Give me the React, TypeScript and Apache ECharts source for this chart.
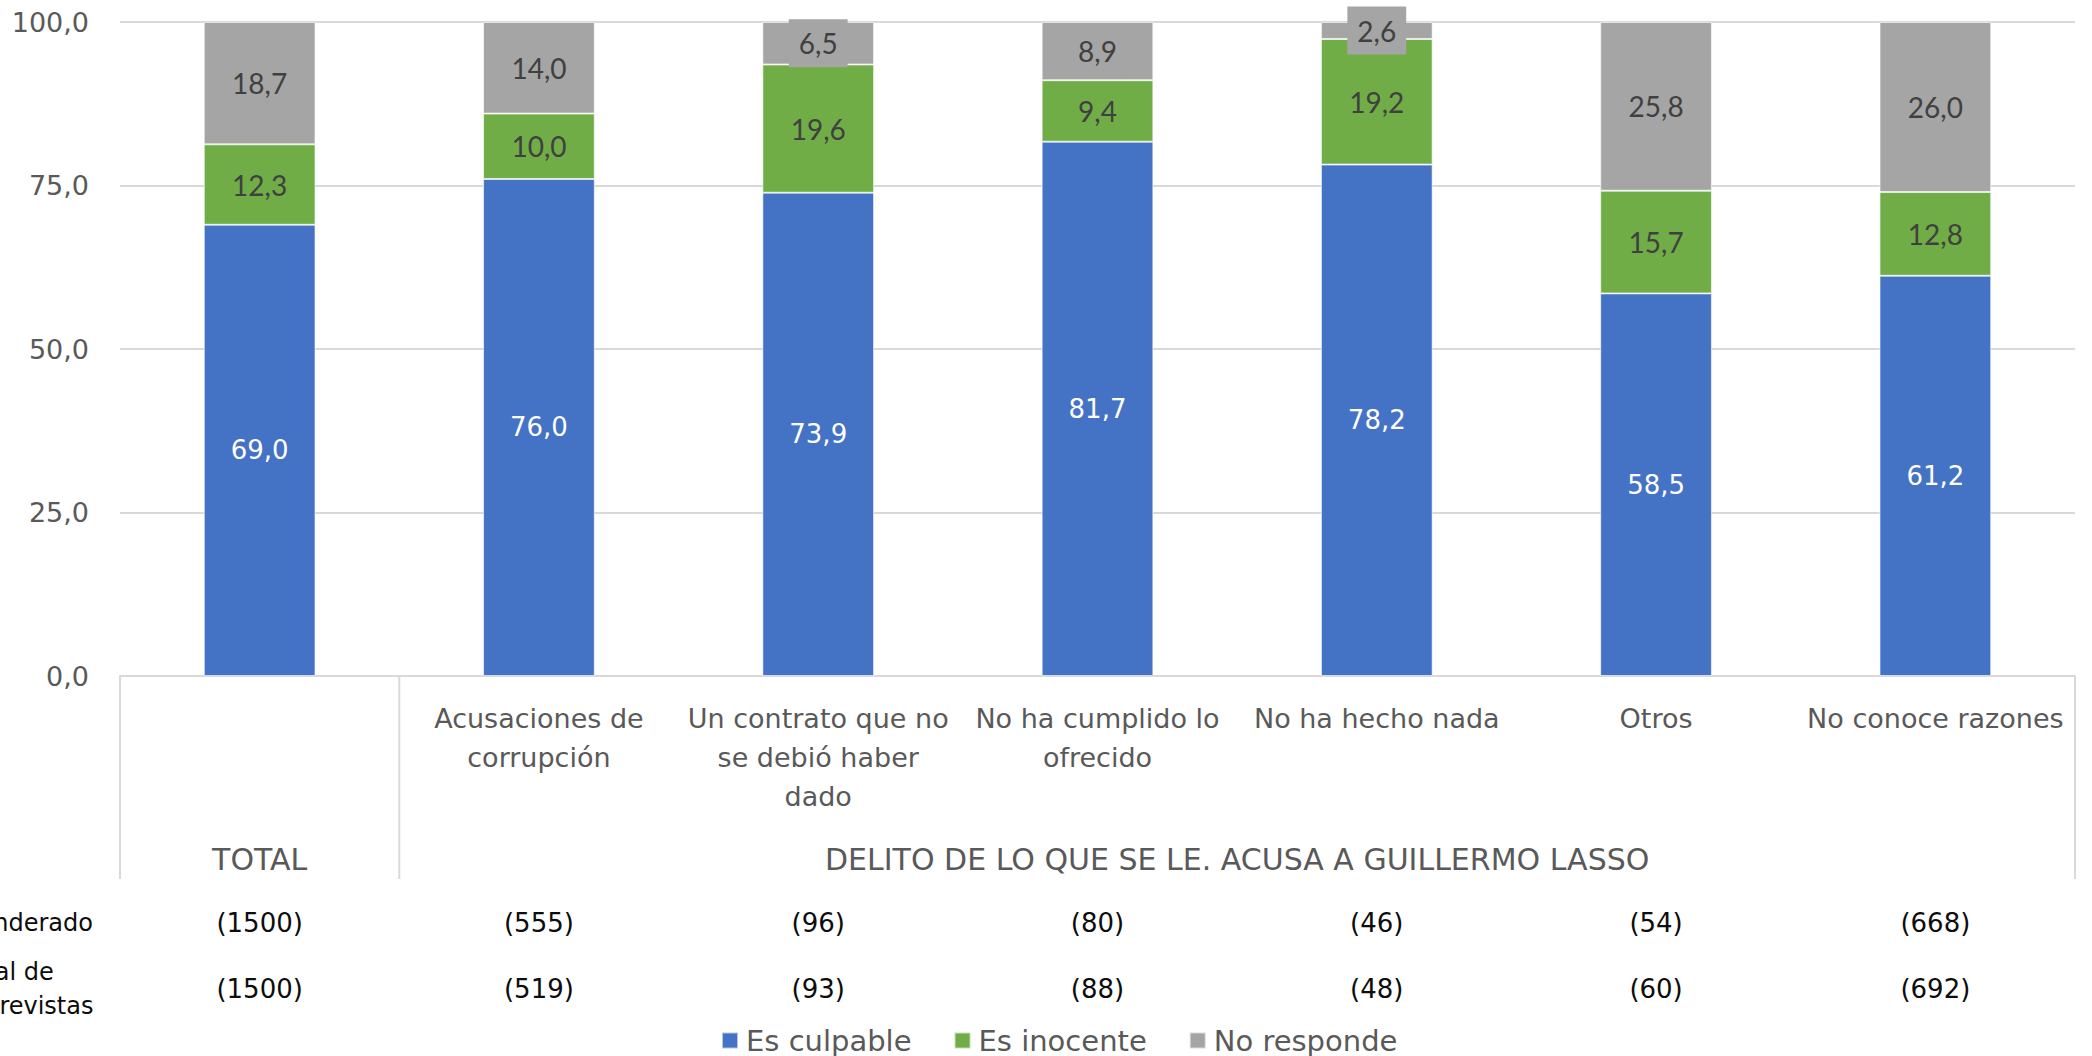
import React, { useEffect, useRef } from "react";
import * as echarts from "echarts";

const categoryLabels = [
  "",
  "Acusaciones de\ncorrupción",
  "Un contrato que no\nse debió haber\ndado",
  "No ha cumplido lo\nofrecido",
  "No ha hecho nada",
  "Otros",
  "No conoce razones",
];
const groupLabels = ["TOTAL", "DELITO DE LO QUE SE LE. ACUSA A GUILLERMO LASSO"];
const groupSpans = [1, 6];

const culpable = [69.0, 76.0, 73.9, 81.7, 78.2, 58.5, 61.2];
const inocente = [12.3, 10.0, 19.6, 9.4, 19.2, 15.7, 12.8];
const noResponde = [18.7, 14.0, 6.5, 8.9, 2.6, 25.8, 26.0];

const rowLabels = ["Total ponderado", "Total de\nentrevistas"];
const ponderado = ["(1500)", "(555)", "(96)", "(80)", "(46)", "(54)", "(668)"];
const entrevistas = ["(1500)", "(519)", "(93)", "(88)", "(48)", "(60)", "(692)"];

const yTicks = { min: 0, max: 100, interval: 25 };

const WIDE_FONT = "'DejaVu Sans', 'Open Sans', sans-serif";
const LABEL_FONT = "Lato, 'Noto Sans', sans-serif";
const fmt = (v: number) => v.toFixed(1).replace(".", ",");

export default function App() {
  const ref = useRef<HTMLDivElement>(null);
  useEffect(() => {
    if (!ref.current) return;
    const chart = echarts.init(ref.current, null, { renderer: "svg" });
    const mkSeries = (
      name: string,
      data: number[],
      color: string,
      labelColor: string,
      font: string,
      size: number,
      bg?: string
    ) => ({
      name,
      type: "bar",
      stack: "total",
      data,
      barWidth: "40%",
      itemStyle: { color, borderColor: "rgba(255,255,255,0.6)", borderWidth: 1 },
      label: {
        show: true,
        position: "inside",
        formatter: (p: any) => fmt(p.value),
        color: labelColor,
        fontFamily: font,
        fontSize: size,
        backgroundColor: bg,
        padding: bg ? [10, 10] : 0,
      },
    });
    chart.setOption({
      animation: false,
      backgroundColor: "#ffffff",
      grid: { left: 120, right: 17, top: 22, bottom: 380, containLabel: false },
      legend: {
        data: ["Es culpable", "Es inocente", "No responde"],
        left: 716,
        top: 1021,
        icon: "rect",
        itemWidth: 16,
        itemHeight: 16,
        itemGap: 42,
        textStyle: { fontFamily: WIDE_FONT, fontSize: 29, color: "#595959", padding: [0, 0, 0, 3] },
      },
      xAxis: {
        type: "category",
        data: categoryLabels,
        axisLine: { show: true, lineStyle: { color: "#D9D9D9", width: 2 } },
        axisTick: { show: false },
        axisLabel: {
          interval: 0,
          margin: 23,
          lineHeight: 39,
          fontFamily: WIDE_FONT,
          fontSize: 27,
          color: "#595959",
        },
      },
      yAxis: {
        type: "value",
        min: yTicks.min,
        max: yTicks.max,
        interval: yTicks.interval,
        axisLine: { show: false },
        axisTick: { show: false },
        splitLine: { lineStyle: { color: "#D9D9D9", width: 2 } },
        axisLabel: {
          formatter: (v: number) => fmt(v),
          margin: 31,
          fontFamily: WIDE_FONT,
          fontSize: 27,
          color: "#595959",
        },
      },
      series: [
        mkSeries("Es culpable", culpable, "#4472C4", "#FFFFFF", WIDE_FONT, 26),
        mkSeries("Es inocente", inocente, "#70AD47", "#404040", LABEL_FONT, 28),
        mkSeries("No responde", noResponde, "#A5A5A5", "#404040", LABEL_FONT, 28, "#A5A5A5"),
      ],
    });

    // table below the axis
    const xs = categoryLabels.map((_, i) => chart.convertToPixel({ xAxisIndex: 0 }, i) as number);
    const band = xs[1] - xs[0];
    const y0 = chart.convertToPixel({ yAxisIndex: 0 }, 0) as number;
    const tableBottom = 879;
    const lineStyle = { stroke: "#D9D9D9", lineWidth: 2 };
    const graphics: any[] = [];
    let start = 0;
    const bounds = [xs[0] - band / 2];
    groupSpans.forEach((span, g) => {
      const left = xs[start] - band / 2;
      const right = xs[start + span - 1] + band / 2;
      bounds.push(right);
      graphics.push({
        type: "text",
        x: (left + right) / 2,
        y: 859,
        style: {
          text: groupLabels[g],
          align: "center",
          verticalAlign: "middle",
          font: `30px ${WIDE_FONT}`,
          fill: "#595959",
        },
      });
      start += span;
    });
    bounds.forEach((bx) => {
      graphics.push({ type: "line", shape: { x1: bx, y1: y0, x2: bx, y2: tableBottom }, style: lineStyle });
    });
    const rows = [ponderado, entrevistas];
    const rowY = [923, 989];
    rows.forEach((row, r) => {
      row.forEach((t, i) => {
        graphics.push({
          type: "text",
          x: xs[i],
          y: rowY[r],
          style: { text: t, align: "center", verticalAlign: "middle", font: `26px ${WIDE_FONT}`, fill: "#0D0D0D" },
        });
      });
    });
    graphics.push({
      type: "text",
      x: 93,
      y: rowY[0],
      style: { text: rowLabels[0], align: "right", verticalAlign: "middle", font: `24px ${WIDE_FONT}`, fill: "#0D0D0D" },
    });
    graphics.push({
      type: "text",
      x: -40,
      y: rowY[1],
      style: {
        text: rowLabels[1],
        align: "left",
        verticalAlign: "middle",
        font: `24px ${WIDE_FONT}`,
        lineHeight: 34,
        fill: "#0D0D0D",
      },
    });
    chart.setOption({ graphic: graphics });
    return () => chart.dispose();
  }, []);
  return (
    <div
      ref={ref}
      style={{ position: "fixed", left: 0, top: 0, width: 2092, height: 1056, background: "#fff" }}
    />
  );
}
